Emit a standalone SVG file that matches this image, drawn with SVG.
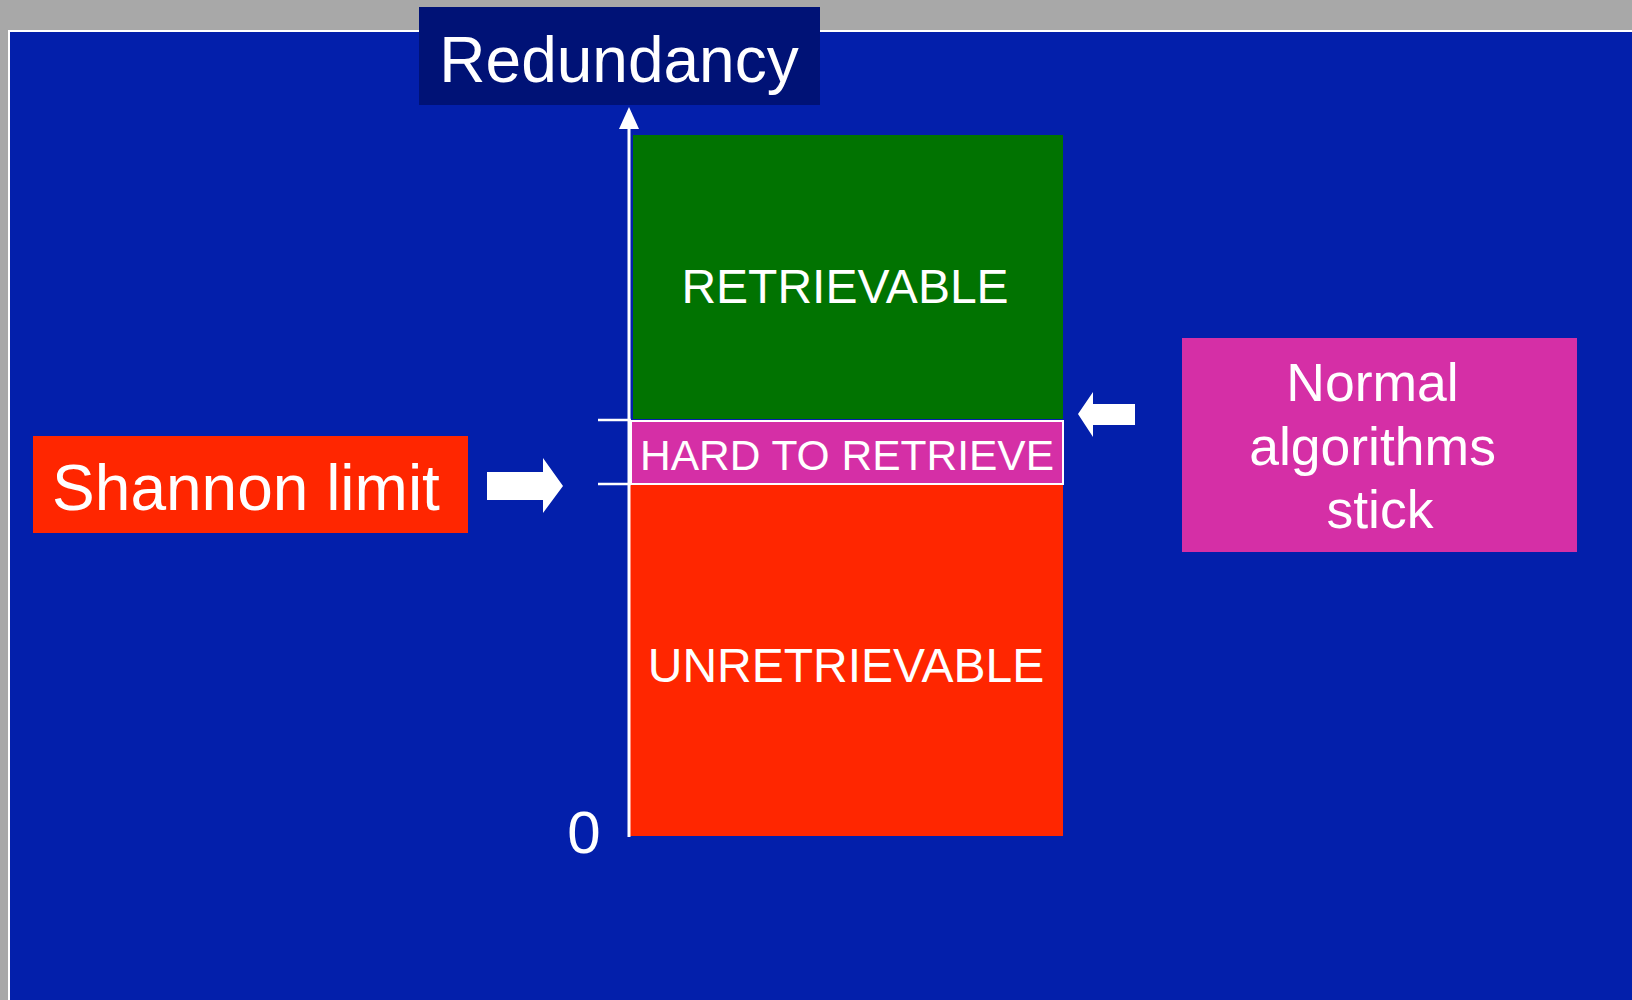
<svg xmlns="http://www.w3.org/2000/svg" width="1632" height="1000" viewBox="0 0 1632 1000">
  <style>
    .lbl { font-family: "Liberation Sans", Arial, sans-serif; fill: #ffffff; text-anchor: middle; }
    .axis { stroke: #ffffff; stroke-width: 3; fill: none; }
    .tick { stroke: #ffffff; stroke-width: 2.5; fill: none; }
    .block { fill: #ffffff; }
  </style>
  <defs>
    <!-- solid triangular head for the redundancy axis -->
    <marker id="axisHead" markerWidth="22" markerHeight="20" refX="12" refY="10" orient="auto" markerUnits="userSpaceOnUse" viewBox="0 0 22 20">
      <path d="M0,0 L22,10 L0,20 Z" fill="#ffffff"/>
    </marker>
  </defs>

  <!-- slide backdrop -->
  <rect x="0" y="0" width="1632" height="1000" fill="#a8a8a8"/>
  <rect x="9" y="31" width="1630" height="980" fill="#031fab" stroke="#ffffff" stroke-width="2"/>

  <!-- regions of the redundancy scale -->
  <g id="retrievable">
    <rect x="633" y="135" width="430" height="284" fill="#017301"/>
    <text class="lbl" x="845" y="303" font-size="48">RETRIEVABLE</text>
  </g>
  <g id="unretrievable">
    <rect x="630" y="485" width="433" height="351" fill="#ff2600"/>
    <text class="lbl" x="846" y="682" font-size="48">UNRETRIEVABLE</text>
  </g>
  <g id="hard-to-retrieve">
    <rect x="631" y="421" width="432" height="63" fill="#d52fa6" stroke="#ffffff" stroke-width="2"/>
    <text class="lbl" x="847" y="470" font-size="42.5">HARD TO RETRIEVE</text>
  </g>

  <!-- axis title -->
  <g id="redundancy">
    <rect x="419" y="7" width="401" height="98" fill="#001276"/>
    <text class="lbl" x="619" y="82" font-size="64">Redundancy</text>
  </g>

  <!-- zero mark -->
  <g id="zero">
    <text class="lbl" x="584" y="853" font-size="60">0</text>
  </g>

  <!-- side labels -->
  <g id="shannon-limit">
    <rect x="33" y="436" width="435" height="97" fill="#ff2600"/>
    <text class="lbl" x="246" y="510" font-size="64">Shannon limit</text>
  </g>
  <g id="normal-algorithms">
    <rect x="1182" y="338" width="395" height="214" fill="#d52fa6"/>
    <text class="lbl" font-size="53.5">
      <tspan x="1380" y="401">Normal</tspan>
      <tspan x="1380" y="465">algorithms</tspan>
      <tspan x="1380" y="528">stick</tspan>
    </text>
  </g>

  <!-- axis, ticks and pointer arrows -->
  <g id="connectors">
    <line class="axis" x1="629" y1="837" x2="629" y2="117" marker-end="url(#axisHead)"/>
    <line class="tick" x1="598" y1="420" x2="631" y2="420"/>
    <line class="tick" x1="598" y1="484" x2="631" y2="484"/>
    <polygon class="block" points="487,472 543,472 543,458 563,486 543,513 543,500 487,500"/>
    <polygon class="block" points="1135,404 1093,404 1093,392 1078,414 1093,437 1093,425 1135,425"/>
  </g>
</svg>
